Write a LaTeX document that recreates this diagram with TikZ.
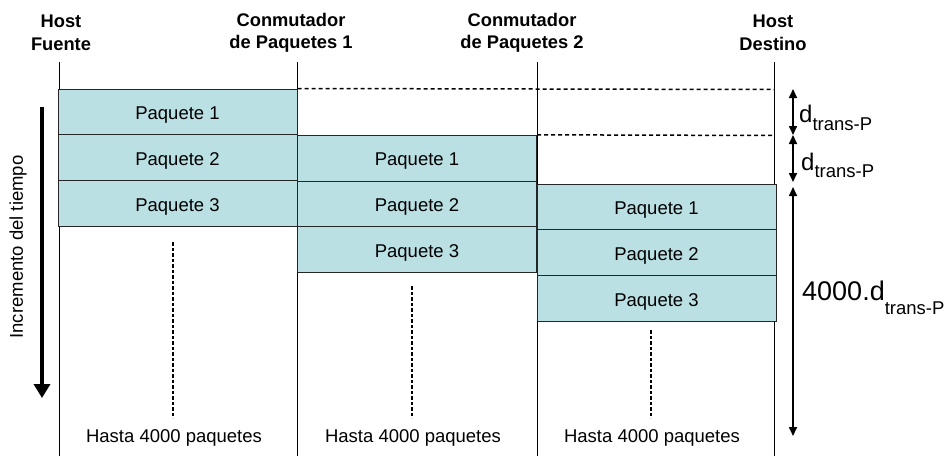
\documentclass[tikz,border=0pt]{standalone}
\usepackage{fontspec}
\setmainfont{Liberation Sans}
\usepackage{xcolor}
\usetikzlibrary{arrows.meta}

\definecolor{paqfill}{RGB}{186,224,227}

\begin{document}
\begin{tikzpicture}[x=1pt,y=-1pt,
		paquete/.style={draw=black!85, line width=1pt, fill=paqfill, minimum width=239pt, minimum height=45.7pt, inner sep=0pt, text height=15.5pt, text depth=0pt, font=\fontsize{18.5}{22}\selectfont},
		cabecera/.style={align=center, font=\fontsize{18.3}{22.5}\selectfont\bfseries},
		texto/.style={font=\fontsize{18.5}{22}\selectfont},
		puntos/.style={line width=1.5pt, dash pattern=on 3.5pt off 2pt},
		guiones/.style={line width=1.5pt, dash pattern=on 4pt off 3pt},
		flecha/.style={line width=1.6pt, {Triangle[length=9pt,width=8pt]}-{Triangle[length=9pt,width=8pt]}}]
		\useasboundingbox (0,0) rectangle (950,456);
		
		\def\yTOP{62};
		\def\yBOT{456};
		\def\h{45.7};
		
		% ejes de cada equipo
		\foreach \n/\x in {hf/59, c1/297, c2/537, hd/774} {
			\coordinate (\n-a) at (\x,\yTOP);
			\coordinate (\n-b) at (\x,\yBOT);
			\draw [line width=0.9pt] (\n-a) -- (\n-b);
		}
		
		\node [cabecera] (thf) at (61,33) {Host\\Fuente};
		\node [cabecera] (tc1) at (291,33) {Conmutador\\de Paquetes 1};
		\node [cabecera] (tc2) at (522,33) {Conmutador\\de Paquetes 2};
		\node [cabecera] (thd) at (773,33) {Host\\Destino};
		
		% paquetes
		\foreach \c/\x/\y in {1/177.5/89, 2/417/135.3, 3/656.5/184} {
			\foreach \p in {1,2,3} {
				\node [paquete] (p\c\p) at ({\x},{\y+(\p-0.5)*\h}) {Paquete \p};
			}
		}
		
		% lineas de tiempo
		\coordinate (l1) at (774,89.5);
		\coordinate (l2) at (774,135.5);
		\draw [guiones] (p11.north east) -- (l1);
		\draw [guiones] (p21.north east) -- (l2);
		
		\foreach \c/\x/\y in {1/173/242, 2/412/286, 3/651/330} {
			\coordinate (v\c) at (\x,\y);
			\coordinate (w\c) at (\x,418);
			\draw [puntos] (v\c) -- (w\c);
			\node [texto] (h\c) at (\x+1,438) {Hasta 4000 paquetes};
		}
		
		% retardos
		\coordinate (t0) at (793,89);
		\coordinate (t1) at (793,135);
		\coordinate (t2) at (793,182);
		\coordinate (t3) at (793,187);
		\coordinate (t4) at (793,436);
		\draw [flecha] (t0) -- (t1);
		\draw [flecha] (t1) -- (t2);
		\draw [flecha] (t3) -- (t4);
		
		\node [anchor=base west, inner sep=0pt] (d1) at (799,122.7) {\fontsize{24}{24}\selectfont d\raisebox{-8pt}{\fontsize{18.5}{18.5}\selectfont trans-P}};
		\node [anchor=base west, inner sep=0pt] (d2) at (801,170) {\fontsize{24}{24}\selectfont d\raisebox{-7pt}{\fontsize{18.5}{18.5}\selectfont trans-P}};
		\node [anchor=base west, inner sep=0pt] (d3) at (802,300) {\fontsize{27}{27}\selectfont 4000.d\raisebox{-14pt}{\fontsize{18.5}{18.5}\selectfont trans-P}};
		
		% tiempo
		\coordinate (ta) at (42,107);
		\coordinate (tb) at (42,398);
		\draw [line width=4.5pt, -{Triangle[length=14pt,width=16pt]}] (ta) -- (tb);
		\node [texto, rotate=90] (ti) at (18,247) {Incremento del tiempo};
	\end{tikzpicture}
\end{document}
